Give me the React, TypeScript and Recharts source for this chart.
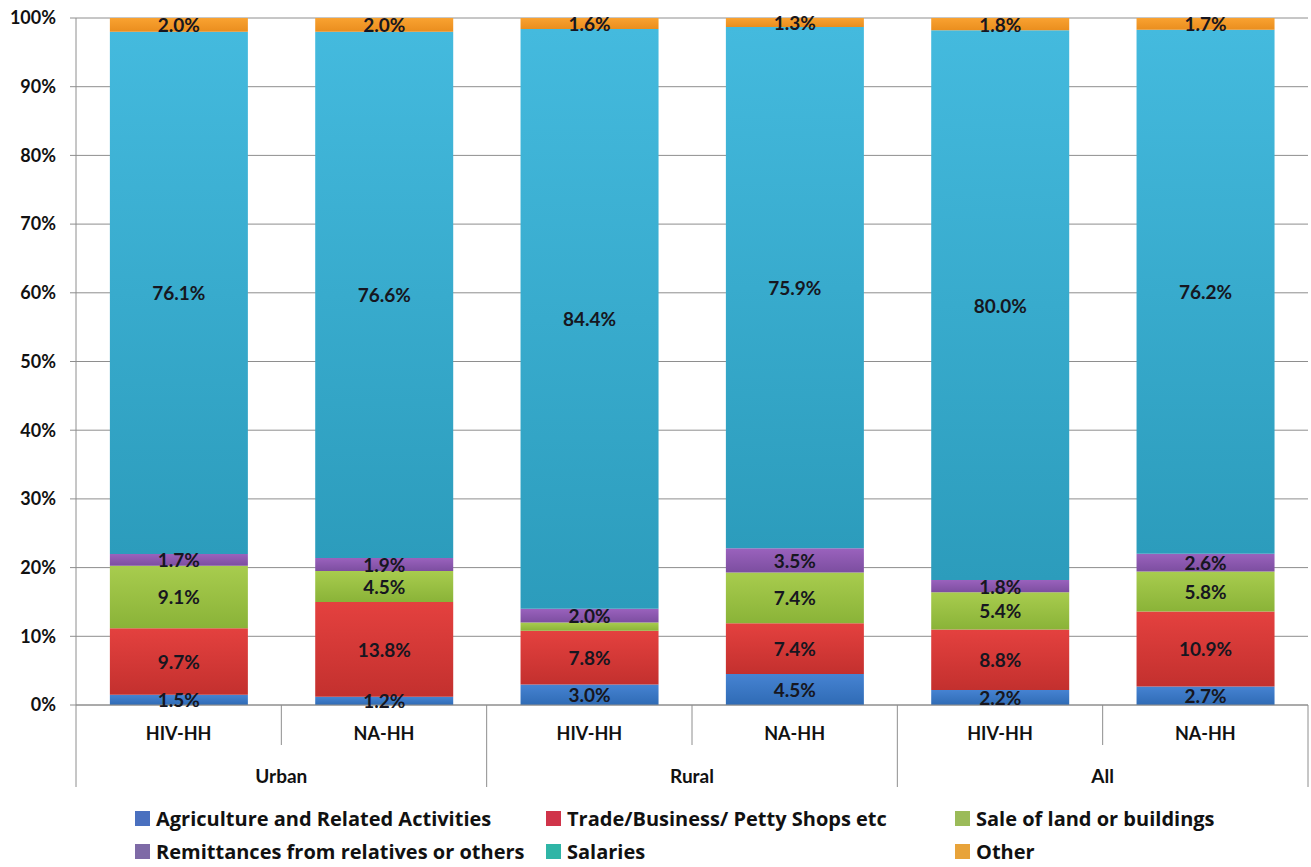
import React from 'react';
import { BarChart, Bar, XAxis, YAxis, CartesianGrid, Legend, LabelList } from 'recharts';

const groups = ['Urban', 'Urban', 'Rural', 'Rural', 'All', 'All'];
const households = ['HIV-HH', 'NA-HH', 'HIV-HH', 'NA-HH', 'HIV-HH', 'NA-HH'];
const agriculture = [1.5, 1.2, 3.0, 4.5, 2.2, 2.7];
const trade = [9.7, 13.8, 7.8, 7.4, 8.8, 10.9];
const saleOfLand = [9.1, 4.5, 1.2, 7.4, 5.4, 5.8];
const saleLabelShown = [true, true, false, true, true, true];
const remittances = [1.7, 1.9, 2.0, 3.5, 1.8, 2.6];
const salaries = [76.1, 76.6, 84.4, 75.9, 80.0, 76.2];
const other = [2.0, 2.0, 1.6, 1.3, 1.8, 1.7];
const yTicks = [0, 0.1, 0.2, 0.3, 0.4, 0.5, 0.6, 0.7, 0.8, 0.9, 1];

const data = households.map((h, i) => ({
  name: `${groups[i]} ${h}`,
  household: h,
  group: groups[i],
  agriculture: agriculture[i],
  trade: trade[i],
  saleOfLand: saleOfLand[i],
  remittances: remittances[i],
  salaries: salaries[i],
  other: other[i],
}));

const series = [
  { key: 'agriculture', name: 'Agriculture and Related Activities', top: '#4683d2', bottom: '#2f6bb5', legend: '#4a70bf' },
  { key: 'trade', name: 'Trade/Business/ Petty Shops etc', top: '#e4413f', bottom: '#c3302e', legend: '#d0344a' },
  { key: 'saleOfLand', name: 'Sale of land or buildings', top: '#a8cc4e', bottom: '#8ab338', legend: '#9bbb59' },
  { key: 'remittances', name: 'Remittances from relatives or others', top: '#9a62bd', bottom: '#7c4ea0', legend: '#7e6aa6' },
  { key: 'salaries', name: 'Salaries', top: '#44bade', bottom: '#2c9cbc', legend: '#2fb5a6' },
  { key: 'other', name: 'Other', top: '#f9a231', bottom: '#ea8e1e', legend: '#e8a33a' },
];

const FONT = 'Lato, "Open Sans", sans-serif';
const LEGEND_FONT = '"Open Sans", Lato, sans-serif';
const CHART_W = 1311;
const CHART_H = 867;
const Y_W = 76;
const MARGIN = { top: 18, right: 3, left: 0, bottom: 0 };
const STEP = (CHART_W - Y_W - MARGIN.left - MARGIN.right) / data.length;
const LINE = '#8e8e8e';

const XTick = (props: any) => {
  const { x, y, payload } = props;
  const i = payload.index;
  const half = STEP / 2;
  const isGroupStart = i % 2 === 0;
  return (
    <g>
      <line x1={x - half} x2={x - half} y1={y} y2={y + (isGroupStart ? 82 : 40)} stroke={LINE} />
      {i === data.length - 1 && (
        <line x1={x + half} x2={x + half} y1={y} y2={y + 82} stroke={LINE} />
      )}
      <text x={x} y={y + 28} textAnchor="middle" dominantBaseline="central"
        fontFamily={FONT} fontWeight={700} fontSize={18} fill="#111">
        {data[i].household}
      </text>
      {!isGroupStart && (
        <text x={x - half} y={y + 70} textAnchor="middle" dominantBaseline="central"
          fontFamily={FONT} fontWeight={700} fontSize={19} fill="#111">
          {data[i].group}
        </text>
      )}
    </g>
  );
};

const makeLabel = (key: string) => (props: any) => {
  const { x, y, width, height, value, index } = props;
  if (key === 'saleOfLand' && !saleLabelShown[index]) return null;
  return (
    <text x={x + width / 2} y={y + height / 2} textAnchor="middle" dominantBaseline="central"
      fontFamily={FONT} fontWeight={700} fontSize={19} fill="#161620">
      {`${Number(value).toFixed(1)}%`}
    </text>
  );
};

const LegendBox = () => (
  <div style={{ height: 77, boxSizing: 'border-box', paddingTop: 12, paddingLeft: 135,
    display: 'grid', gridTemplateColumns: '411px 409px 340px', fontFamily: LEGEND_FONT,
    fontWeight: 700, fontSize: 20, lineHeight: '26px', color: '#111' }}>
    {series.map(s => (
      <div key={s.key} style={{ display: 'flex', alignItems: 'center', height: 33, whiteSpace: 'nowrap' }}>
        <span style={{ width: 15, height: 15, background: s.legend, marginRight: 6, display: 'inline-block' }} />
        {s.name}
      </div>
    ))}
  </div>
);

const App: React.FC = () => (
  <div style={{ position: 'absolute', left: 0, top: 0, background: '#fff' }}>
    <BarChart width={CHART_W} height={CHART_H} data={data} margin={MARGIN} barCategoryGap="16.5%"
      stackOffset="expand">
      <defs>
        {series.map(s => (
          <linearGradient key={s.key} id={`grad-${s.key}`} x1="0" y1="0" x2="0" y2="1">
            <stop offset="0%" stopColor={s.top} />
            <stop offset="100%" stopColor={s.bottom} />
          </linearGradient>
        ))}
      </defs>
      <CartesianGrid vertical={false} stroke={LINE} strokeWidth={1} />
      <XAxis dataKey="name" interval={0} tickLine={false} tickSize={0} tickMargin={0}
        height={85} axisLine={{ stroke: LINE }} tick={<XTick />} />
      <YAxis width={Y_W} domain={[0, 1]} ticks={yTicks}
        tickFormatter={(v: number) => `${Math.round(v * 100)}%`} tickSize={6} tickMargin={14}
        axisLine={{ stroke: LINE }} tickLine={{ stroke: LINE }}
        tick={{ fontFamily: FONT, fontWeight: 700, fontSize: 18, fill: '#111' }} />
      <Legend verticalAlign="bottom" content={<LegendBox />} wrapperStyle={{ left: 0, width: CHART_W }} />
      {series.map(s => (
        <Bar key={s.key} dataKey={s.key} name={s.name} stackId="a" fill={`url(#grad-${s.key})`}
          isAnimationActive={false}>
          <LabelList dataKey={s.key} content={makeLabel(s.key)} />
        </Bar>
      ))}
    </BarChart>
  </div>
);

export default App;
